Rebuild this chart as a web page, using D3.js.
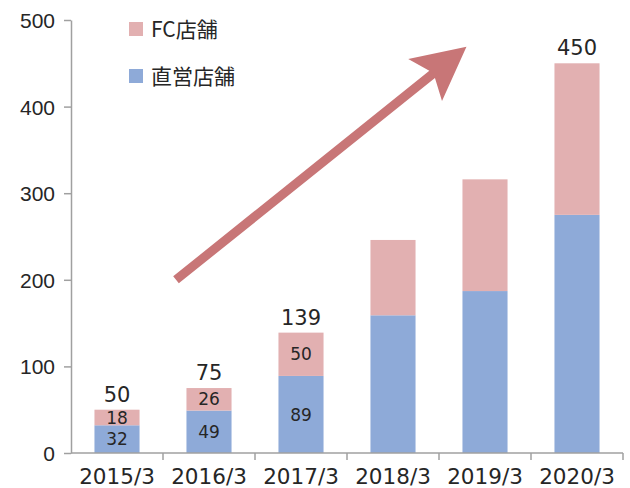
<!DOCTYPE html>
<html lang="ja">
<head>
<meta charset="utf-8">
<title>店舗数推移</title>
<script src="https://d3js.org/d3.v7.min.js"></script>
<style>
  body { margin: 0; background: #fff; }
  svg { display: block; font-family: "DejaVu Sans", "Noto Sans CJK JP", sans-serif; }
  .tick text { font-size: 21px; fill: #262626; }
  .tick line, .domain { stroke: #a0a0a0; stroke-width: 1.5px; }
  .legend text { font-family: "Noto Sans CJK JP", sans-serif; }
</style>
</head>
<body>
<svg width="630" height="488"></svg>
<script>
// data - store counts by fiscal year
const years = ["2015/3", "2016/3", "2017/3", "2018/3", "2019/3", "2020/3"];
const direct = [32, 49, 89, 159, 187, 275];   // 直営店舗
const fc = [18, 26, 50, 87, 129, 175];        // FC店舗
const totals = [50, 75, 139, null, null, 450]; // labels shown above bars
const showSegLabels = [true, true, true, false, false, false];
const yTicks = [0, 100, 200, 300, 400, 500];

const colDirect = "#8eaad8";
const colFc = "#e2b0b1";
const colArrow = "#c87677";
const textCol = "#262626";

const svg = d3.select("svg");
const x0 = 71, x1 = 623, yBottom = 453, yTop = 20;

const x = d3.scaleBand().domain(years).range([x0, x1]).paddingInner(0.51).paddingOuter(0.255);
const y = d3.scaleLinear().domain([0, 500]).range([yBottom, yTop]);

const rows = years.map((yr, i) => ({ year: yr, direct: direct[i], fc: fc[i], total: totals[i], seg: showSegLabels[i] }));
const stack = d3.stack().keys(["direct", "fc"])(rows);
const colors = { direct: colDirect, fc: colFc };

// bars
svg.selectAll("g.layer")
  .data(stack)
  .enter().append("g")
  .attr("class", "layer")
  .attr("fill", d => colors[d.key])
  .selectAll("rect")
  .data(d => d)
  .enter().append("rect")
  .attr("x", d => x(d.data.year))
  .attr("width", x.bandwidth())
  .attr("y", d => y(d[1]))
  .attr("height", d => y(d[0]) - y(d[1]));

// y axis
svg.append("g")
  .attr("transform", "translate(" + x0 + ",0)")
  .call(d3.axisLeft(y).tickValues(yTicks).tickSize(7).tickPadding(9).tickSizeOuter(0))
  .call(g => g.selectAll(".tick text").attr("dy", "0.36em"));

// x axis - ticks on band boundaries
const xAxis = svg.append("g").attr("transform", "translate(0," + yBottom + ")");
xAxis.append("line").attr("class", "domain").attr("x1", x0).attr("x2", x1).attr("y1", 0).attr("y2", 0);
const bounds = years.map(d => x(d) - x.step() * x.paddingInner() / 2).concat([x1]);
xAxis.selectAll("line.tk").data(bounds.slice(1)).enter().append("line")
  .attr("class", "domain")
  .attr("x1", d => d).attr("x2", d => d).attr("y1", 0).attr("y2", 7);
xAxis.selectAll("text").data(years).enter().append("text")
  .attr("x", d => x(d) + x.bandwidth() / 2)
  .attr("y", 31)
  .attr("text-anchor", "middle")
  .attr("font-size", "21.5px")
  .attr("fill", textCol)
  .text(d => d);

// segment labels
const seg = svg.append("g").attr("font-size", "17px").attr("fill", textCol).attr("text-anchor", "middle");
stack.forEach(layer => {
  seg.selectAll(null).data(layer.filter(d => d.data.seg)).enter().append("text")
    .attr("x", d => x(d.data.year) + x.bandwidth() / 2)
    .attr("y", d => (y(d[0]) + y(d[1])) / 2)
    .attr("dy", "0.36em")
    .text(d => d[1] - d[0]);
});

// total labels
svg.append("g").selectAll("text")
  .data(rows.filter(d => d.total !== null))
  .enter().append("text")
  .attr("x", d => x(d.year) + x.bandwidth() / 2)
  .attr("y", d => y(d.total) - 8)
  .attr("text-anchor", "middle")
  .attr("font-size", "21px")
  .attr("fill", textCol)
  .text(d => d.total);

// legend
const legend = [
  { label: "FC店舗", color: colFc, yy: 29 },
  { label: "直営店舗", color: colDirect, yy: 76 }
];
const lg = svg.append("g").attr("class", "legend").selectAll("g").data(legend).enter().append("g");
lg.append("rect").attr("x", 129).attr("y", d => d.yy - 7).attr("width", 14).attr("height", 14).attr("fill", d => d.color);
lg.append("text").attr("x", 151).attr("y", d => d.yy).attr("dy", "0.36em")
  .attr("font-size", "21px").attr("fill", textCol).text(d => d.label);

// growth arrow (annotation, in data space)
const arrowFrom = [x("2016/3") + 13 - x.step() * x.paddingInner() / 2, 200];
const arrowTo = [x("2019/3") + 4, 469];
const p0 = [arrowFrom[0], y(arrowFrom[1])];
const p1 = [arrowTo[0], y(arrowTo[1])];
const dx = p1[0] - p0[0], dy = p1[1] - p0[1];
const len = Math.hypot(dx, dy);
const ux = dx / len, uy = dy / len, nx = -uy, ny = ux;
const headLen = 53, headHalf = 27, notch = 44, shaftHalf = 4.5;
const pt = (a, b) => [p0[0] + ux * a + nx * b, p0[1] + uy * a + ny * b];
const shape = [
  pt(0, -shaftHalf), pt(len - notch, -shaftHalf), pt(len - headLen, -headHalf),
  pt(len, 0),
  pt(len - headLen, headHalf), pt(len - notch, shaftHalf), pt(0, shaftHalf)
];
svg.append("path")
  .attr("d", d3.line()(shape) + "Z")
  .attr("fill", colArrow);
</script>
</body>
</html>
